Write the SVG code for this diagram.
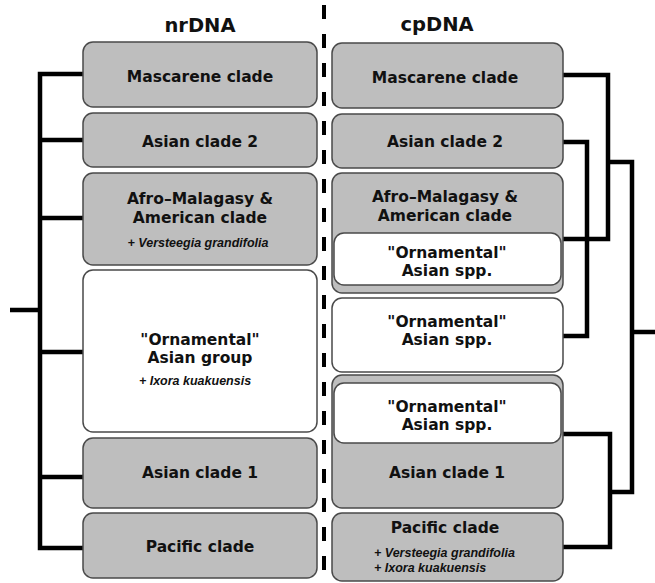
<svg xmlns="http://www.w3.org/2000/svg" width="655" height="583" viewBox="0 0 655 583">
<style>
.g{fill:#bebebe;stroke:#4a4a4a;stroke-width:1.5}
.w{fill:#fff;stroke:#4a4a4a;stroke-width:1.5}
.t{font-family:"DejaVu Sans",Verdana,sans-serif;font-weight:bold;font-size:15.5px;fill:#111;text-anchor:middle}
.h{font-family:"DejaVu Sans",Verdana,sans-serif;font-weight:bold;font-size:19.5px;fill:#111;text-anchor:middle}
.i{font-family:"Liberation Sans",Arial,sans-serif;font-weight:bold;font-style:italic;font-size:12.5px;fill:#111}
.c{fill:none;stroke:#000;stroke-width:4.5;stroke-linejoin:miter;stroke-linecap:butt}
</style>
<rect width="655" height="583" fill="#fff"/>
<text class="h" x="200" y="32">nrDNA</text>
<text class="h" x="437" y="31">cpDNA</text>
<line x1="324" y1="5" x2="324" y2="583" stroke="#000" stroke-width="4" stroke-dasharray="14 15"/>
<g id="connectors">
<path class="c" d="M83 74H40V548H83"/>
<path class="c" d="M40 140H83M40 218H83M40 352H83M40 477H83M10 310H40"/>
<path class="c" d="M563 75H608V239H563"/>
<path class="c" d="M563 142H587V336H563"/>
<path class="c" d="M608 162H632V492H610"/>
<path class="c" d="M563 434H610V547H563"/>
<path class="c" d="M632 332H655"/>
</g>
<g id="nr-mascarene"><rect class="g" x="83" y="42" width="234" height="65" rx="10"/><text class="t" x="200" y="82">Mascarene clade</text></g>
<g id="nr-asian2"><rect class="g" x="83" y="113" width="234" height="54" rx="10"/><text class="t" x="200" y="147">Asian clade 2</text></g>
<g id="nr-afro"><rect class="g" x="83" y="173" width="234" height="92" rx="10"/><text class="t" x="200" y="204">Afro–Malagasy &amp;</text><text class="t" x="200" y="223">American clade</text><text class="i" x="198" y="247" text-anchor="middle">+ Versteegia grandifolia</text></g>
<g id="nr-ornamental"><rect class="w" x="83" y="270" width="234" height="162" rx="10"/><text class="t" x="200" y="345">"Ornamental"</text><text class="t" x="200" y="363">Asian group</text><text class="i" x="195" y="385" text-anchor="middle">+ Ixora kuakuensis</text></g>
<g id="nr-asian1"><rect class="g" x="83" y="438" width="234" height="70" rx="10"/><text class="t" x="200" y="478">Asian clade 1</text></g>
<g id="nr-pacific"><rect class="g" x="83" y="513" width="234" height="65" rx="10"/><text class="t" x="200" y="552">Pacific clade</text></g>
<g id="cp-mascarene"><rect class="g" x="332" y="43" width="231" height="65" rx="10"/><text class="t" x="445" y="83">Mascarene clade</text></g>
<g id="cp-asian2"><rect class="g" x="332" y="114" width="231" height="54" rx="10"/><text class="t" x="445" y="147">Asian clade 2</text></g>
<g id="cp-afro"><rect class="g" x="332" y="173" width="231" height="120" rx="10"/><text class="t" x="445" y="202">Afro–Malagasy &amp;</text><text class="t" x="445" y="221">American clade</text></g>
<g id="cp-ornamental-a"><rect class="w" x="334" y="233" width="227" height="52" rx="10"/><text class="t" x="447" y="258">"Ornamental"</text><text class="t" x="447" y="276">Asian spp.</text></g>
<g id="cp-ornamental-b"><rect class="w" x="332" y="298" width="231" height="74" rx="10"/><text class="t" x="447" y="327">"Ornamental"</text><text class="t" x="447" y="345">Asian spp.</text></g>
<g id="cp-asian1"><rect class="g" x="332" y="375" width="231" height="133" rx="10"/><text class="t" x="447" y="478">Asian clade 1</text></g>
<g id="cp-ornamental-c"><rect class="w" x="334" y="383" width="227" height="60" rx="10"/><text class="t" x="447" y="412">"Ornamental"</text><text class="t" x="447" y="430">Asian spp.</text></g>
<g id="cp-pacific"><rect class="g" x="332" y="513" width="231" height="68" rx="10"/><text class="t" x="445" y="533">Pacific clade</text><text class="i" x="374" y="557">+ Versteegia grandifolia</text><text class="i" x="374" y="572">+ Ixora kuakuensis</text></g>
</svg>
